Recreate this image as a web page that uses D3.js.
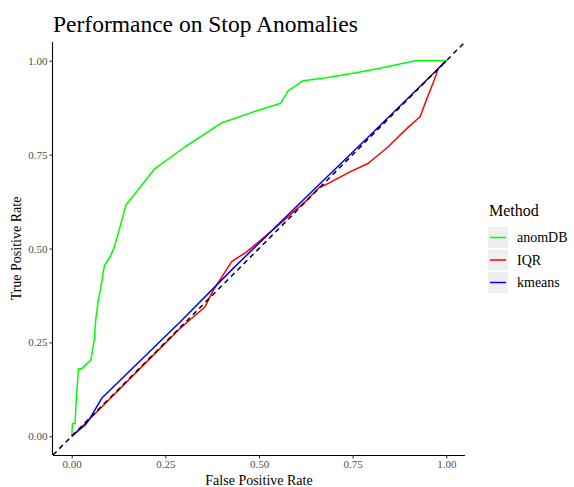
<!DOCTYPE html>
<html>
<head>
<meta charset="utf-8">
<script src="https://cdn.jsdelivr.net/npm/d3@7"></script>
<style>
  body { margin: 0; background: #fff; }
  svg text { font-family: "Liberation Serif", "Times New Roman", serif; }
</style>
</head>
<body>
<script>
// ROC points, [fpr, tpr]
const methods = ["anomDB", "IQR", "kmeans"];
const colors = ["#00ff00", "#ff0000", "#0000ff"];

const anomDB = [
  [0, 0], [0.002, 0.034], [0.009, 0.034], [0.011, 0.079], [0.018, 0.180],
  [0.027, 0.180], [0.037, 0.190], [0.051, 0.203], [0.060, 0.256], [0.064, 0.309],
  [0.071, 0.363], [0.078, 0.398], [0.087, 0.454], [0.102, 0.476], [0.114, 0.505],
  [0.129, 0.558], [0.145, 0.616], [0.222, 0.713], [0.303, 0.771], [0.401, 0.835],
  [0.494, 0.867], [0.558, 0.887], [0.578, 0.920], [0.618, 0.947], [0.676, 0.954],
  [0.770, 0.970], [0.823, 0.980], [0.917, 1.0], [1, 1]
];
const iqr = [
  [0, 0], [0.03, 0.028], [0.10, 0.098], [0.20, 0.198], [0.289, 0.287],
  [0.356, 0.345], [0.378, 0.389], [0.427, 0.465], [0.467, 0.491], [0.547, 0.558],
  [0.628, 0.629], [0.66, 0.662], [0.676, 0.669], [0.743, 0.704], [0.792, 0.727],
  [0.845, 0.771], [0.895, 0.820], [0.930, 0.851], [0.952, 0.909], [0.966, 0.944],
  [0.979, 0.980], [1, 1]
];
const kmeans = [
  [0, 0], [0.036, 0.030], [0.049, 0.048], [0.080, 0.101], [0.294, 0.309],
  [0.427, 0.443], [0.618, 0.629], [0.80, 0.805], [1, 1]
];
const ticks = [0, 0.25, 0.5, 0.75, 1];

const series = [anomDB, iqr, kmeans];

const svg = d3.select("body").append("svg")
  .attr("width", 574)
  .attr("height", 487);

const panel = {left: 53, right: 465, top: 42, bottom: 455};

const x = d3.scaleLinear().domain([-0.05, 1.05]).range([panel.left, panel.right]);
const y = d3.scaleLinear().domain([-0.05, 1.05]).range([panel.bottom, panel.top]);

const line = d3.line()
  .x(d => x(d[0]))
  .y(d => y(d[1]));

svg.selectAll(".roc")
  .data(series)
  .enter().append("path")
  .attr("class", "roc")
  .attr("d", line)
  .attr("fill", "none")
  .attr("stroke", (d, i) => colors[i])
  .attr("stroke-width", 1.5)
  .attr("stroke-linejoin", "round");

// reference diagonal
svg.append("path")
  .attr("d", line([[-0.05, -0.05], [1.05, 1.05]]))
  .attr("stroke", "#000")
  .attr("stroke-width", 1.5)
  .attr("stroke-dasharray", "5,4")
  .attr("fill", "none");

const fmt = d3.format(".2f");

const xAxis = svg.append("g")
  .attr("transform", "translate(0," + panel.bottom + ")")
  .call(d3.axisBottom(x).tickValues(ticks).tickFormat(fmt).tickSize(3.5).tickPadding(2));
const yAxis = svg.append("g")
  .attr("transform", "translate(" + panel.left + ",0)")
  .call(d3.axisLeft(y).tickValues(ticks).tickFormat(fmt).tickSize(3.5).tickPadding(2));

[xAxis, yAxis].forEach(g => {
  g.attr("font-family", null);
  g.select(".domain").attr("stroke", "#000").attr("stroke-width", 1.1);
  g.selectAll(".tick line").attr("stroke", "#333").attr("stroke-width", 1.1);
  g.selectAll(".tick text")
    .attr("fill", "#4d4d4d")
    .style("font-size", "11px");
});
// R draws the axis line without the end caps d3 adds
xAxis.select(".domain").attr("d", "M" + panel.left + ",0.5H" + panel.right);
yAxis.select(".domain").attr("d", "M-0.5," + panel.bottom + "V" + panel.top);

svg.append("text")
  .attr("x", panel.left)
  .attr("y", 32)
  .style("font-size", "23.5px")
  .text("Performance on Stop Anomalies");

svg.append("text")
  .attr("x", (panel.left + panel.right) / 2)
  .attr("y", 485)
  .attr("text-anchor", "middle")
  .style("font-size", "14px")
  .text("False Positive Rate");

svg.append("text")
  .attr("transform", "translate(21," + (panel.top + panel.bottom) / 2 + ") rotate(-90)")
  .attr("text-anchor", "middle")
  .style("font-size", "14px")
  .text("True Positive Rate");

// legend
const legend = svg.append("g").attr("transform", "translate(488,204)");
legend.append("text")
  .attr("x", 1)
  .attr("y", 12)
  .style("font-size", "16px")
  .text("Method");

const keys = legend.selectAll(".key")
  .data(methods)
  .enter().append("g")
  .attr("class", "key")
  .attr("transform", (d, i) => "translate(0," + (23 + i * 22.5) + ")");

keys.append("rect")
  .attr("width", 20)
  .attr("height", 21)
  .attr("fill", "#efefef");
keys.append("line")
  .attr("x1", 2).attr("x2", 18)
  .attr("y1", 10.5).attr("y2", 10.5)
  .attr("stroke", (d, i) => colors[i])
  .attr("stroke-width", 1.5);
keys.append("text")
  .attr("x", 29)
  .attr("y", 15)
  .style("font-size", "14px")
  .text(d => d);
</script>
</body>
</html>
